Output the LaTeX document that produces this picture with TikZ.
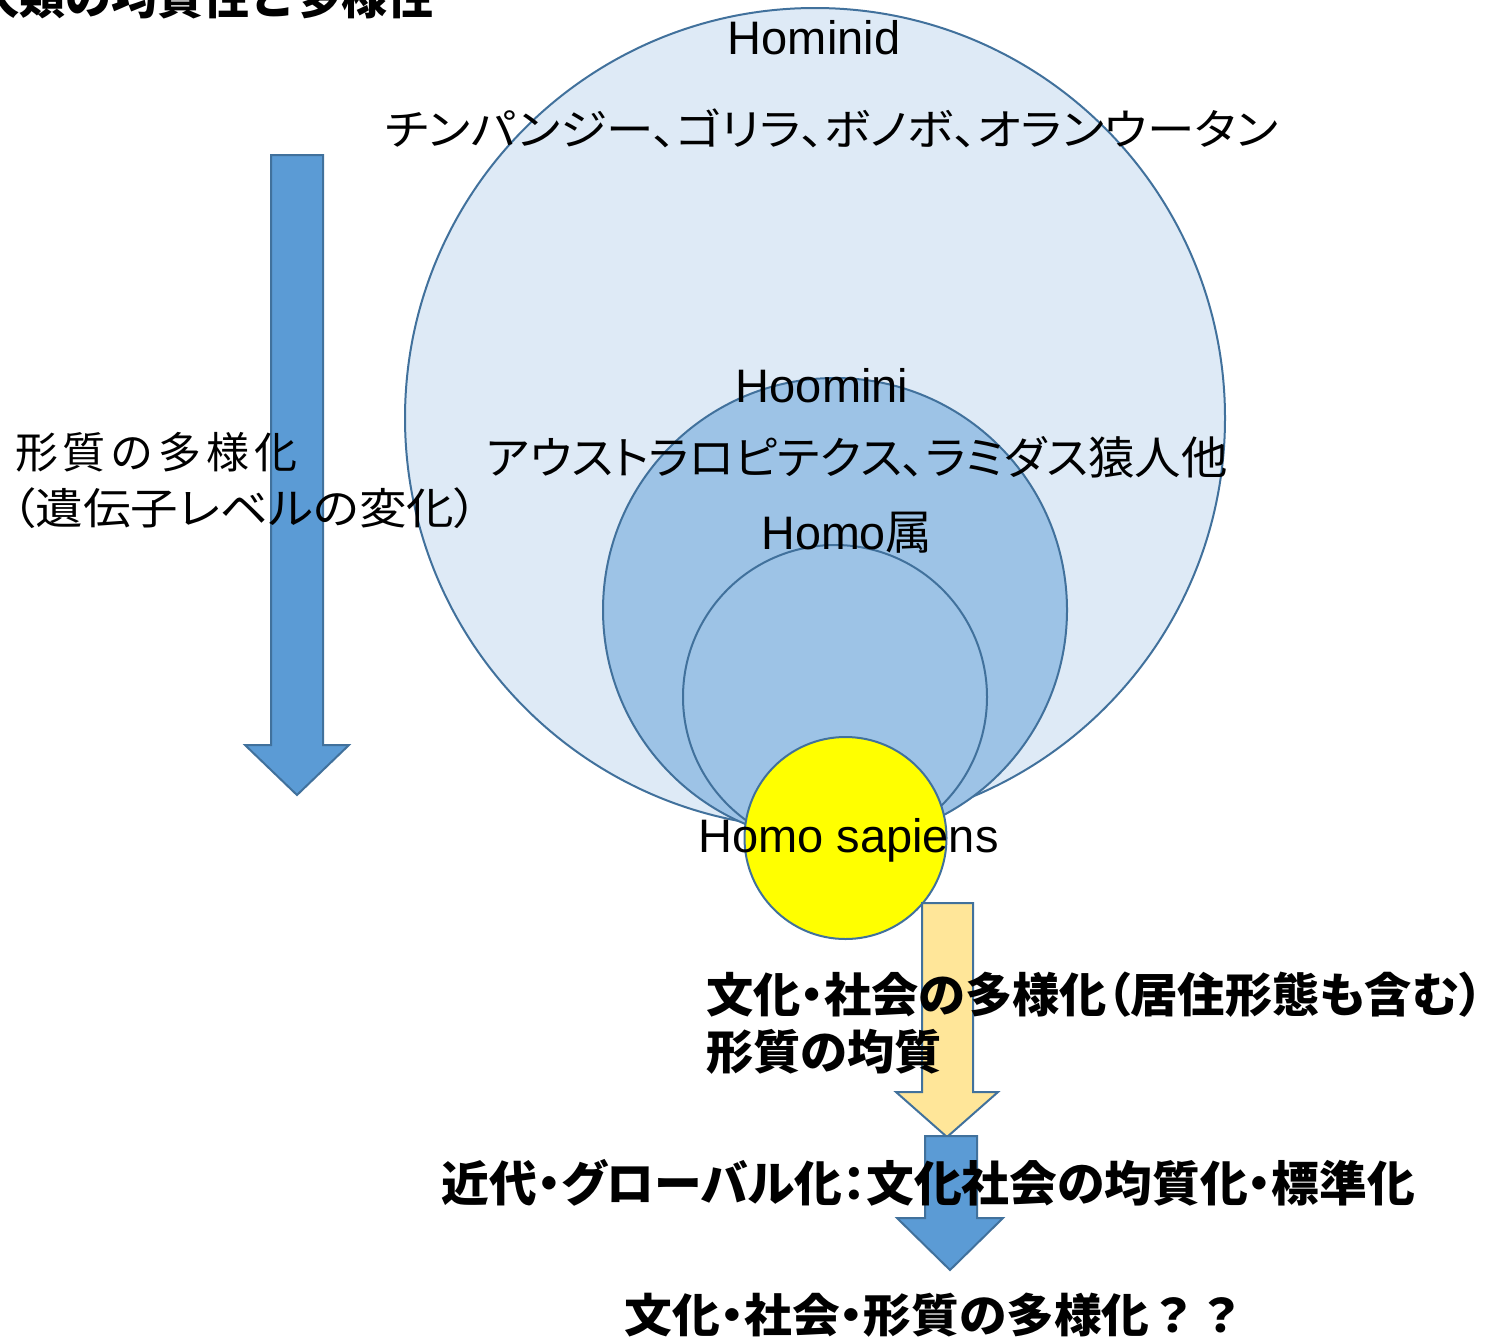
\documentclass[tikz,border=0pt]{standalone}
\usepackage{fontspec}
\usepackage{graphicx}
\setmainfont{Liberation Sans}
\newfontfamily\jp{Noto Sans CJK JP}
\newfontfamily\jpp{Noto Sans CJK JP}[RawFeature=+palt]
\newcommand\fitw[2]{\resizebox{#1}{\height}{#2}}
\definecolor{edgec}{HTML}{41719C}
\definecolor{outerc}{HTML}{DEEAF6}
\definecolor{innerc}{HTML}{9DC3E6}
\definecolor{arrowblue}{HTML}{5B9BD5}
\definecolor{arrowyellow}{HTML}{FFE699}
\definecolor{sapyellow}{RGB}{255,255,0}
\tikzset{
  shapeline/.style={draw=edgec, line width=2pt, line join=miter},
  lbl/.style={inner sep=0pt, outer sep=0pt, text=black},
  lat/.style={lbl, font=\fontsize{47}{50}\selectfont},
}
\begin{document}
\begin{tikzpicture}[x=1pt,y=-1pt]
\useasboundingbox (0,0) rectangle (1490,1339);
\clip (0,0) rectangle (1490,1339);
\fill[white] (0,0) rectangle (1490,1339);
% circles
\draw[shapeline, fill=outerc] (815,418) circle[radius=410pt];
\draw[shapeline, fill=innerc] (835,610) circle[radius=232pt];
\draw[shapeline, fill=innerc] (835,697) circle[radius=152pt];
\draw[shapeline, fill=sapyellow] (845.5,838) circle[radius=101pt];
% arrows
\draw[shapeline, fill=arrowblue] (271,155) -- (323,155) -- (323,745) -- (349,745) -- (297,795) -- (245,745) -- (271,745) -- cycle;
\draw[shapeline, fill=arrowyellow] (922,903) -- (973,903) -- (973,1092) -- (998,1092) -- (947,1137) -- (896,1092) -- (922,1092) -- cycle;
\draw[shapeline, fill=arrowblue] (925,1136) -- (977,1136) -- (977,1218) -- (1003,1218) -- (950,1270) -- (897,1218) -- (925,1218) -- cycle;
% title (cut off at top)
\node[lbl, anchor=base east, font=\jp\bfseries\fontsize{46}{50}\selectfont] (title) at (433,14) {人類の均質性と多様性};
% circle labels
\node[lat] (hominid) at (814,38) {Hominid};
\node[lbl, font=\jpp\fontsize{43}{48}\selectfont] (apes) at (831.5,128) {\fitw{893pt}{チンパンジー、ゴリラ、ボノボ、オランウータン}};
\node[lat] (hoomini) at (822,386) {Hoomini};
\node[lbl, font=\jpp\fontsize{45}{48}\selectfont] (austr) at (857,457) {\fitw{741pt}{アウストラロピテクス、ラミダス猿人他}};
\node[lat] (homo) at (847,533) {\fitw{171pt}{Homo{\jp 属}}};
\node[lat, anchor=base] (sapiens) at (848.5,852) {Homo sapiens};
% left text
\node[lbl, anchor=west, font=\jp\fontsize{43}{48}\selectfont] (left1) at (15,452) {形\hspace{5pt}質\hspace{5pt}の\hspace{5pt}多\hspace{5pt}様\hspace{5pt}化};
\node[lbl, anchor=west, font=\jpp\fontsize{43}{48}\selectfont] (left2) at (12,508) {\fitw{466pt}{（遺伝子レベルの変化）}};
% lower bold text
\node[lbl, anchor=west, font=\jpp\bfseries\fontsize{47}{50}\selectfont] (b1) at (706,995) {\fitw{777pt}{文化・社会の多様化（居住形態も含む）}};
\node[lbl, anchor=west, font=\jpp\bfseries\fontsize{47}{50}\selectfont] (b2) at (706,1052) {\fitw{236pt}{形質の均質}};
\node[lbl, font=\jpp\bfseries\fontsize{48}{50}\selectfont] (b3) at (928.5,1183) {\fitw{973pt}{近代・グローバル化：文化社会の均質化・標準化}};
\node[lbl, font=\jpp\bfseries\fontsize{46}{50}\selectfont] (b4) at (935,1315) {\fitw{620pt}{文化・社会・形質の多様化{\jp\bfseries ？？}}};
\end{tikzpicture}
\end{document}
